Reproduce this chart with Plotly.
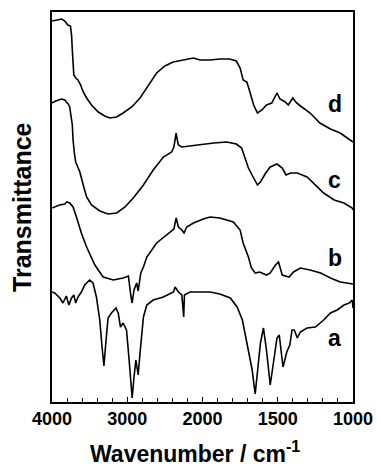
import plotly.graph_objects as go

# ---- data (wavenumber in cm-1, transmittance in arbitrary offset units) ----
wn_d = [4000, 3940, 3900, 3870, 3830, 3790, 3755, 3740, 3730, 3720, 3710, 3685, 3655, 3620,
        3585, 3540, 3475, 3385, 3300, 3230, 3140, 3055, 2940, 2830, 2720, 2610, 2500, 2390,
        2255, 2120, 2030, 1985, 1950, 1885, 1820, 1775, 1750, 1730, 1705, 1685, 1660, 1635,
        1605, 1575, 1540, 1505, 1485, 1450, 1430, 1400, 1375, 1340, 1285, 1220, 1150, 1085,
        1040, 1000]
tr_d = [381, 382, 383, 383, 381, 377, 376, 367, 352, 335, 327, 324, 322, 317,
        310, 304, 297, 290, 286, 284, 285, 289, 295, 304, 317, 329, 336, 340,
        342, 344, 342, 342, 342, 343, 343, 341, 334, 322, 320, 310, 297, 289,
        292, 297, 299, 309, 303, 300, 297, 304, 299, 295, 289, 279, 273, 269,
        264, 260]

wn_c = [4000, 3950, 3875, 3830, 3810, 3785, 3765, 3740, 3730, 3720, 3710, 3700, 3685, 3630,
        3585, 3540, 3475, 3365, 3255, 3140, 3030, 2920, 2785, 2655, 2520, 2410, 2380, 2365,
        2350, 2340, 2320, 2275, 2165, 1995, 1925, 1840, 1775, 1740, 1715, 1695, 1660, 1635,
        1615, 1580, 1550, 1505, 1470, 1445, 1415, 1370, 1305, 1250, 1195, 1125, 1060, 1005,
        1000]
tr_c = [299, 301, 303, 302, 300, 298, 295, 285, 277, 262, 252, 247, 240, 230,
        217, 205, 197, 191, 188, 189, 195, 204, 217, 232, 245, 250, 255, 262,
        269, 264, 257, 255, 256, 258, 259, 260, 258, 254, 242, 234, 224, 217,
        220, 229, 235, 238, 234, 227, 229, 229, 225, 217, 209, 202, 199, 194,
        192]

wn_b = [4000, 3900, 3830, 3805, 3765, 3740, 3720, 3675, 3610, 3540, 3500, 3430, 3385, 3320,
        3185, 3055, 2985, 2965, 2950, 2935, 2910, 2890, 2875, 2855, 2840, 2820, 2785, 2740,
        2610, 2475, 2380, 2350, 2320, 2275, 2245, 2210, 2120, 1995, 1950, 1885, 1795, 1750,
        1730, 1695, 1675, 1650, 1620, 1575, 1550, 1515, 1495, 1470, 1425, 1395, 1350, 1285,
        1215, 1150, 1085, 1000]
tr_b = [194, 197, 198, 200, 199, 197, 195, 185, 169, 155, 149, 137, 132, 125,
        122, 124, 126, 112, 105, 99, 112, 116, 119, 111, 117, 129, 135, 145,
        159, 167, 173, 184, 175, 172, 169, 175, 179, 183, 185, 184, 180, 172,
        159, 145, 134, 129, 130, 127, 129, 137, 140, 127, 125, 130, 134, 132,
        129, 124, 120, 118]

wn_a = [4000, 3965, 3895, 3855, 3810, 3775, 3740, 3710, 3685, 3655, 3610, 3565, 3500, 3455,
        3410, 3365, 3335, 3310, 3285, 3255, 3210, 3150, 3120, 3090, 3055, 3010, 2975, 2950,
        2935, 2910, 2885, 2865, 2855, 2830, 2785, 2740, 2655, 2520, 2385, 2365, 2320, 2275,
        2260, 2250, 2240, 2165, 2075, 1985, 1950, 1885, 1815, 1770, 1735, 1705, 1670, 1650,
        1635, 1615, 1595, 1575, 1550, 1525, 1505, 1490, 1475, 1465, 1440, 1420, 1405, 1390,
        1370, 1350, 1305, 1250, 1195, 1150, 1105, 1060, 1025, 1005, 1000]
tr_a = [110, 109, 104, 99, 106, 97, 104, 107, 99, 105, 110, 117, 122, 119,
        105, 82, 55, 36, 59, 84, 89, 94, 89, 75, 79, 72, 42, 19,
        4, 25, 42, 32, 27, 49, 85, 97, 102, 105, 110, 115, 110, 107,
        92, 85, 107, 110, 110, 110, 110, 108, 104, 95, 82, 59, 32, 8,
        32, 59, 74, 52, 17, 42, 64, 67, 49, 35, 50, 57, 72, 72,
        64, 70, 74, 75, 82, 89, 92, 97, 99, 102, 94]

curve_labels = ["a", "b", "c", "d"]
label_y = [64, 144, 222, 298]
tick_wn = [4000, 3000, 2000, 1500, 1000]

FONT = "Liberation Sans, Arial, sans-serif"


def tx(w):
    # axis scale is compressed by a factor 2 above 2000 cm-1
    return w if w <= 2000 else 2000 + (w - 2000) / 2.0


fig = go.Figure()
for wn, tr in [(wn_a, tr_a), (wn_b, tr_b), (wn_c, tr_c), (wn_d, tr_d)]:
    fig.add_trace(go.Scatter(x=[tx(w) for w in wn], y=tr, mode="lines",
                             line=dict(color="black", width=1.6), showlegend=False,
                             hoverinfo="skip"))

for lab, yy in zip(curve_labels, label_y):
    fig.add_annotation(x=tx(1120), y=yy, text=lab, showarrow=False,
                       xanchor="center", yanchor="middle",
                       font=dict(family=FONT, size=23, color="black", weight=700))

fig.add_annotation(xref="paper", yref="paper", x=-0.0997, y=0.5, text="Transmittance",
                   textangle=-90, showarrow=False, xanchor="center", yanchor="middle",
                   font=dict(family=FONT, size=25, color="black", weight=700))
fig.add_annotation(xref="paper", yref="paper", x=0.475, y=-0.128,
                   text="Wavenumber / cm<sup>-1</sup>",
                   showarrow=False, xanchor="center", yanchor="middle",
                   font=dict(family=FONT, size=23, color="black", weight=700))

fig.update_xaxes(range=[tx(4000), tx(1000)], tickvals=[tx(w) for w in tick_wn],
                 ticktext=[str(w) for w in tick_wn], automargin=False,
                 ticks="inside", ticklen=5, tickwidth=1.2, tickcolor="black",
                 minor=dict(ticks="inside", dtick=100, tick0=1000, ticklen=4, tickcolor="black",
                            tickwidth=1, showgrid=False),
                 showline=True, linecolor="black", linewidth=1.5, mirror=True,
                 showgrid=False, zeroline=False,
                 tickfont=dict(family=FONT, size=18, color="black", weight=700))
fig.update_yaxes(range=[0, 390], showticklabels=False, ticks="", showline=True,
                 linecolor="black", linewidth=1.5, mirror=True, showgrid=False,
                 zeroline=False, automargin=False)

fig.update_layout(width=377, height=469, margin=dict(l=52, r=24, t=12, b=67),
                  paper_bgcolor="white", plot_bgcolor="white")

fig.write_html("out.html")
